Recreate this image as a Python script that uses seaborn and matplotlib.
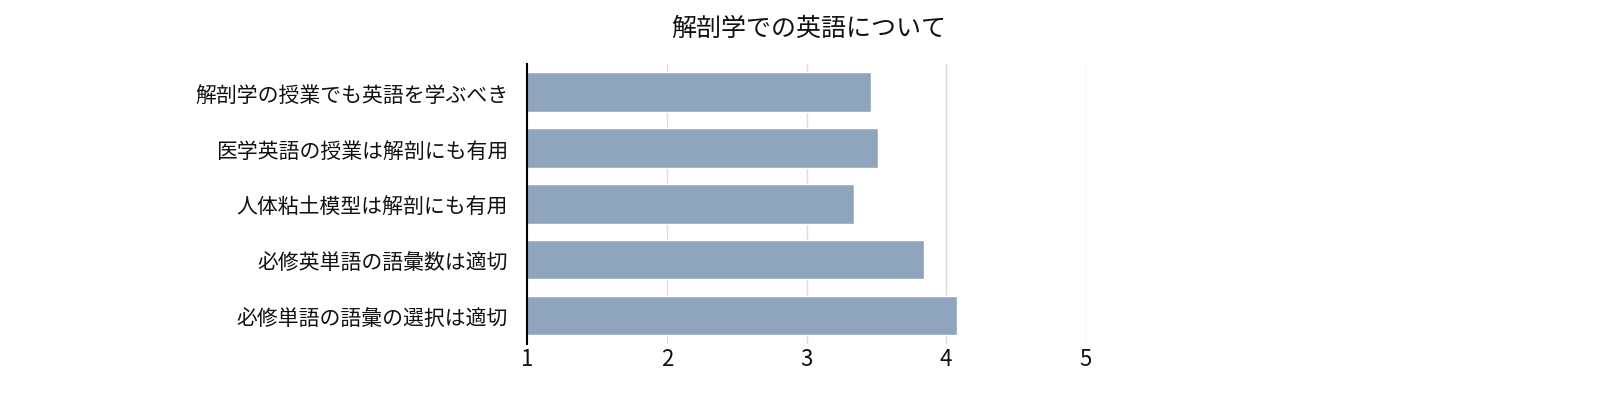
import matplotlib
matplotlib.use("Agg")
import matplotlib.pyplot as plt
import seaborn as sns
import pandas as pd

# ---------------- DATA ----------------
items = [
    "解剖学の授業でも英語を学ぶべき",
    "医学英語の授業は解剖にも有用",
    "人体粘土模型は解剖にも有用",
    "必修英単語の語彙数は適切",
    "必修単語の語彙の選択は適切",
]
scores = [3.46, 3.51, 3.34, 3.84, 4.08]
ticks = [1, 2, 3, 4, 5]

sns.set_theme(style="white")
plt.rcParams["font.family"] = ["Noto Sans CJK JP", "DejaVu Sans"]

df = pd.DataFrame({"item": items, "score": scores})

fig = plt.figure(figsize=(16.18, 4.14), dpi=100)
ax = fig.add_axes([0.326, 0.167, 0.345, 0.676])
ax.set_axisbelow(True)
ax.grid(axis="x", color="#dcdcdc", linewidth=1)
sns.barplot(data=df, x="score", y="item", color="#8fa5be", saturation=1,
            width=0.7, ax=ax, orient="h")
ax.set_xlim(1, 5)
ax.set_xticks(ticks)
ax.set_xticklabels([str(t) for t in ticks], fontsize=16)
ax.tick_params(axis="y", labelsize=15, length=0, pad=14, colors="#111111")
ax.tick_params(axis="x", length=0, pad=2, colors="#111111")
ax.set_xlabel("")
ax.set_ylabel("")
for s in ["top", "right", "bottom"]:
    ax.spines[s].set_visible(False)
ax.spines["left"].set_color("black")
ax.spines["left"].set_linewidth(1.5)
fig.text(0.5, 0.93, "解剖学での英語について", ha="center", va="center",
         fontsize=18, color="#111111")

plt.savefig("out.png", dpi=100)
